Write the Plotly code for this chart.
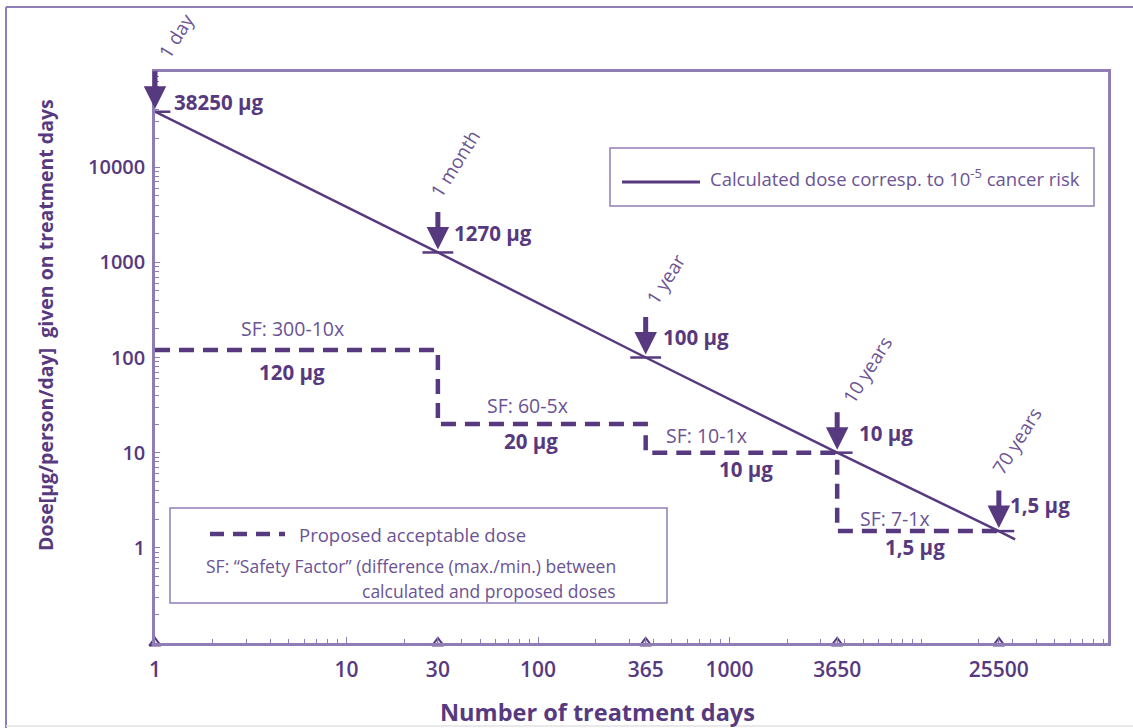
import math
import plotly.graph_objects as go

# ---------------- data ----------------
calc_days = [1, 30, 365, 3650, 25500, 31000]
calc_dose = [38250, 1270, 100, 10, 1.5, 1.23]

key_days = [1, 30, 365, 3650, 25500]
key_dose = [38250, 1270, 100, 10, 1.5]
key_dose_labels = ["38250 µg", "1270 µg", "100 µg", "10 µg", "1,5 µg"]
key_period_labels = ["1 day", "1 month", "1 year", "10 years", "70 years"]

step_days = [1, 30, 365, 3650, 25500]
step_dose = [120, 20, 10, 1.5, 1.5]
step_sf_labels = ["SF: 300-10x", "SF: 60-5x", "SF: 10-1x", "SF: 7-1x"]
step_dose_labels = ["120 µg", "20 µg", "10 µg", "1,5 µg"]

x_tick_vals = [1, 10, 30, 100, 365, 1000, 3650, 25500]
x_tick_text = ["1", "10", "30", "100", "365", "1000", "3650", "25500"]
y_tick_vals = [1, 10, 100, 1000, 10000]
y_tick_text = ["1", "10", "100", "1000", "10000"]

# ---------------- style ----------------
W, H = 1133, 728
L, R, T, B = 155, 25, 72, 85
PW, PH = W - L - R, H - T - B
DARK = "#57397F"
TEXT = "#6B5394"
FRAME = "#8F7DB5"
FONT = "Open Sans"


def px(x):
    return (x - L) / PW


def py(y):
    return (H - B - y) / PH


minor_x = [m * 10 ** k for k in range(0, 5) for m in range(2, 10) if m * 10 ** k < 95000]
minor_x.append(10000)
minor_y = [m * 10 ** k for k in range(-1, 5) for m in range(2, 10)]

fig = go.Figure()

# calculated dose line
fig.add_trace(go.Scatter(x=calc_days, y=calc_dose, mode="lines",
                         line=dict(color=DARK, width=2.5), showlegend=False,
                         hoverinfo="skip"))
# small horizontal bars at key points
fig.add_trace(go.Scatter(x=key_days, y=key_dose, mode="markers",
                         marker=dict(symbol="line-ew", size=22,
                                     line=dict(color=DARK, width=2.5)),
                         showlegend=False, hoverinfo="skip"))
# proposed acceptable dose (step)
fig.add_trace(go.Scatter(x=step_days, y=step_dose, mode="lines", line_shape="hv",
                         line=dict(color=DARK, width=4.5, dash="15px,9px"),
                         showlegend=False, hoverinfo="skip"))
# triangles on x axis
fig.add_trace(go.Scatter(x=key_days, y=[0.1] * len(key_days), mode="markers",
                         marker=dict(symbol="triangle-up", size=10, color="#D9D0E8",
                                     line=dict(color=DARK, width=2)),
                         cliponaxis=False, showlegend=False, hoverinfo="skip"))

ann = []
# arrows + labels at key points
dose_shift = [(17, 10), (14, 19), (15, 21), (20, 20), (9, 26)]
period_shift = [(21, -76), (18, -89), (20, -79), (30, -83), (18, -90)]
for d, v, dl, pl, ds, ps in zip(key_days, key_dose, key_dose_labels,
                                key_period_labels, dose_shift, period_shift):
    lx, ly = math.log10(d), math.log10(v)
    ann.append(dict(x=lx, y=ly, xref="x", yref="y", text="",
                    showarrow=True, ax=0, ay=-42, standoff=3,
                    arrowhead=2, arrowsize=0.9, arrowwidth=5, arrowcolor=DARK))
    ann.append(dict(x=lx, y=ly, xref="x", yref="y", text=dl, showarrow=False,
                    xanchor="left", yanchor="middle",
                    xshift=ds[0], yshift=ds[1],
                    font=dict(family=FONT, size=20.5, color=DARK, weight="bold")))
    ann.append(dict(x=lx, y=ly, xref="x", yref="y", text=pl, showarrow=False,
                    textangle=-58, xanchor="center", yanchor="middle",
                    xshift=ps[0], yshift=-ps[1],
                    font=dict(family=FONT, size=19, color=TEXT)))

# step labels
sf_pos = [5.2, 88, 754, 7315]
sf_shift = [21, 19, 17, 13]
dl_shift = [-22, -17, -16, -16]
dl_pos = [5.2, 92, 1220, 9310]
for i in range(4):
    ann.append(dict(x=math.log10(sf_pos[i]), y=math.log10(step_dose[i]),
                    xref="x", yref="y", text=step_sf_labels[i],
                    showarrow=False, yshift=sf_shift[i],
                    xanchor="center", yanchor="middle",
                    font=dict(family=FONT, size=19.5, color=TEXT)))
    ann.append(dict(x=math.log10(dl_pos[i]), y=math.log10(step_dose[i]),
                    xref="x", yref="y", text=step_dose_labels[i],
                    showarrow=False, yshift=dl_shift[i],
                    xanchor="center", yanchor="middle",
                    font=dict(family=FONT, size=20.5, color=DARK, weight="bold")))

# legend / text in pixel positions
ann.append(dict(x=px(708), y=py(182), xref="paper", yref="paper", xanchor="left",
                yanchor="middle", yshift=5, showarrow=False,
                text="Calculated dose corresp. to 10<sup>-5</sup> cancer risk",
                font=dict(family=FONT, size=18.5, color=TEXT)))
ann.append(dict(x=px(297), y=py(534), xref="paper", yref="paper", xanchor="left",
                yanchor="middle", showarrow=False, text="Proposed acceptable dose",
                font=dict(family=FONT, size=18.5, color=TEXT)))
ann.append(dict(x=px(205), y=py(566), xref="paper", yref="paper", xanchor="left",
                yanchor="middle", showarrow=False, borderpad=0,
                text="SF: “Safety Factor” (difference (max./min.) between",
                font=dict(family=FONT, size=17.5, color=TEXT)))
ann.append(dict(x=px(361), y=py(591), xref="paper", yref="paper", xanchor="left",
                yanchor="middle", showarrow=False, borderpad=0,
                text="calculated and proposed doses",
                font=dict(family=FONT, size=17.5, color=TEXT)))
ann.append(dict(x=px(45), y=py(325), xref="paper", yref="paper", textangle=-90,
                xanchor="center", yanchor="middle", showarrow=False,
                text="Dose[µg/person/day]\u00a0 given on treatment days",
                font=dict(family=FONT, size=19.5, color=DARK, weight="bold")))
ann.append(dict(x=px(597), y=py(712), xref="paper", yref="paper",
                xanchor="center", yanchor="middle",
                showarrow=False, text="Number of treatment days",
                font=dict(family=FONT, size=23.5, color=DARK, weight="bold")))

shapes = [
    dict(type="rect", xref="paper", yref="paper", x0=px(610), x1=px(1094),
         y0=py(148), y1=py(206), line=dict(color=FRAME, width=1.5)),
    dict(type="line", xref="paper", yref="paper", x0=px(622), x1=px(700),
         y0=py(182), y1=py(182), line=dict(color=DARK, width=3)),
    dict(type="rect", xref="paper", yref="paper", x0=px(170), x1=px(667),
         y0=py(508), y1=py(603), line=dict(color=FRAME, width=1.5),
         fillcolor="white"),
    dict(type="line", xref="paper", yref="paper", x0=px(210), x1=px(285),
         y0=py(534), y1=py(534), line=dict(color=DARK, width=4.5, dash="14px,9px")),
    dict(type="line", xref="paper", yref="paper", x0=px(6), x1=px(6),
         y0=py(7), y1=py(728), line=dict(color=FRAME, width=2)),
    dict(type="line", xref="paper", yref="paper", x0=px(6), x1=px(1133),
         y0=py(7), y1=py(7), line=dict(color=FRAME, width=2)),
    dict(type="line", xref="paper", yref="paper", x0=px(6), x1=px(1133),
         y0=py(726), y1=py(726), line=dict(color="#E2E2E2", width=1.5)),
]

fig.update_layout(
    width=W, height=H,
    margin=dict(l=L, r=R, t=T, b=B, autoexpand=False),
    paper_bgcolor="white", plot_bgcolor="white",
    font=dict(family=FONT, color=DARK),
    annotations=ann, shapes=shapes, showlegend=False,
    xaxis=dict(type="log", range=[0, PW / 191.5], showgrid=False, zeroline=False,
               showline=True, linecolor=FRAME, linewidth=2.5, mirror=True,
               ticks="inside", ticklen=6, tickwidth=1.2, tickcolor=FRAME,
               tickvals=x_tick_vals, ticktext=x_tick_text, ticklabelstandoff=6,
               tickfont=dict(family=FONT, size=21, color=DARK, weight=600),
               minor=dict(tickvals=minor_x, ticks="inside", ticklen=4,
                          tickwidth=1, tickcolor=FRAME)),
    yaxis=dict(type="log", range=[-1, 5], showgrid=False, zeroline=False,
               showline=True, linecolor=FRAME, linewidth=2.5, mirror=True,
               ticks="inside", ticklen=5, tickwidth=1.2, tickcolor=FRAME,
               tickvals=y_tick_vals, ticktext=y_tick_text, ticklabelstandoff=3,
               tickfont=dict(family=FONT, size=20, color=DARK, weight=600),
               minor=dict(tickvals=minor_y, ticks="inside", ticklen=4,
                          tickwidth=1, tickcolor=FRAME)),
)

fig.write_html("out.html", config={"displayModeBar": False},
               post_script="document.body.style.margin='0';"
                           "document.body.style.padding='0';")
